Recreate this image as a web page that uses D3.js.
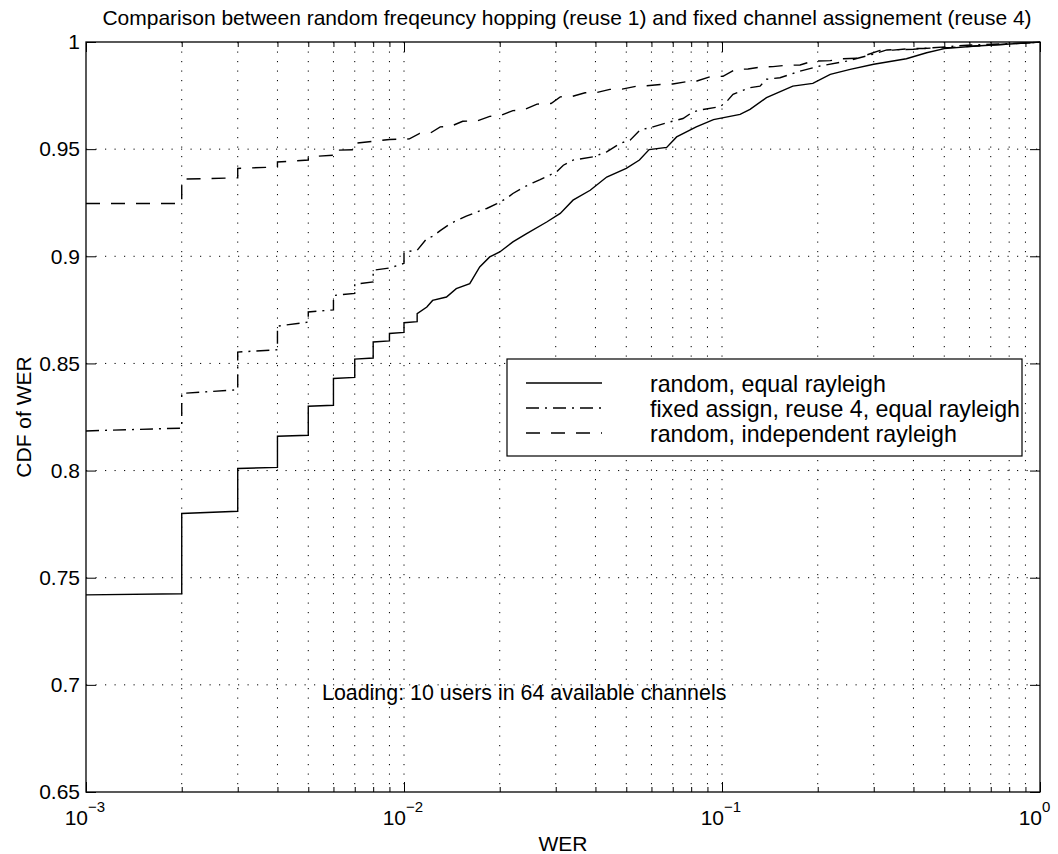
<!DOCTYPE html>
<html>
<head>
<meta charset="utf-8">
<script src="https://cdn.jsdelivr.net/npm/d3@7"></script>
<style>
  body { margin: 0; background: #fff; }
  svg { display: block; font-family: "Liberation Sans", Arial, Helvetica, sans-serif; }
  .axis path.domain { display: none; }
  .axis line { stroke: #000; stroke-width: 1; }
  .axis text { font-size: 21px; fill: #000; font-family: "Liberation Sans", Arial, Helvetica, sans-serif; }
  .grid line { stroke: #000; stroke-width: 1; stroke-dasharray: 1.2 8.3; }
</style>
</head>
<body>
<svg width="1058" height="854"></svg>
<script>
// ---- data (WER, CDF) ----
const randomEqual = [
  [0.001,0.742],[0.002,0.7425],[0.002,0.780],[0.003,0.781],[0.003,0.801],[0.004,0.8015],
  [0.004,0.816],[0.005,0.8165],[0.005,0.830],[0.006,0.8305],[0.006,0.843],[0.007,0.8435],
  [0.007,0.852],[0.008,0.8525],[0.008,0.860],[0.009,0.8605],[0.009,0.864],[0.010,0.8645],
  [0.010,0.869],[0.011,0.8695],[0.011,0.8732],[0.0118,0.8763],[0.0123,0.8794],[0.0136,0.881],
  [0.0146,0.8849],[0.0161,0.8872],[0.0173,0.895],[0.0186,0.8997],[0.020,0.902],[0.022,0.9067],
  [0.0243,0.9106],[0.0281,0.916],[0.031,0.920],[0.034,0.9262],[0.0385,0.9308],[0.0434,0.937],
  [0.050,0.941],[0.055,0.9449],[0.059,0.9498],[0.067,0.9508],[0.072,0.9557],[0.083,0.9604],
  [0.094,0.9638],[0.114,0.9662],[0.1225,0.9686],[0.138,0.974],[0.167,0.9794],[0.193,0.9807],
  [0.219,0.9849],[0.253,0.9872],[0.30,0.9896],[0.38,0.9922],[0.44,0.995],[0.50,0.9969],
  [0.63,0.9981],[0.95,0.9997],[1.0,1.0]
];
const fixedReuse4 = [
  [0.001,0.8185],[0.002,0.8198],[0.002,0.836],[0.003,0.8377],[0.003,0.8553],[0.004,0.8564],
  [0.004,0.8674],[0.005,0.8693],[0.005,0.874],[0.006,0.875],[0.006,0.8817],[0.007,0.8827],
  [0.007,0.887],[0.008,0.888],[0.008,0.8935],[0.009,0.8945],[0.010,0.8967],[0.010,0.902],
  [0.011,0.9028],[0.0118,0.9083],[0.0123,0.9093],[0.013,0.912],[0.014,0.9153],[0.0157,0.9187],
  [0.0173,0.9212],[0.0182,0.9223],[0.0196,0.9246],[0.021,0.927],[0.022,0.9293],[0.0237,0.9321],
  [0.0254,0.9343],[0.0268,0.9358],[0.0302,0.9394],[0.0317,0.9425],[0.034,0.9449],[0.0393,0.9464],
  [0.0434,0.9487],[0.0478,0.9527],[0.0514,0.9542],[0.0552,0.9589],[0.0607,0.9604],[0.067,0.9623],
  [0.0754,0.9643],[0.0811,0.9674],[0.0872,0.9685],[0.0986,0.9698],[0.1037,0.9724],[0.1083,0.9756],
  [0.1225,0.9787],[0.1317,0.9794],[0.138,0.9826],[0.1522,0.9833],[0.176,0.9864],[0.2033,0.9888],
  [0.2466,0.9911],[0.2985,0.9943],[0.33,0.9963],[0.40,0.9966],[0.46,0.9973],[0.59,0.9985],
  [0.95,0.9997],[1.0,1.0]
];
const randomIndep = [
  [0.001,0.9246],[0.002,0.9246],[0.002,0.936],[0.003,0.9366],[0.003,0.941],[0.004,0.9417],
  [0.004,0.944],[0.005,0.9449],[0.005,0.9464],[0.006,0.9472],[0.006,0.9495],[0.007,0.9497],
  [0.007,0.9527],[0.009,0.9545],[0.0104,0.9548],[0.0112,0.9573],[0.0121,0.9575],[0.013,0.9604],
  [0.014,0.9606],[0.0153,0.963],[0.017,0.9632],[0.0186,0.9653],[0.020,0.9655],[0.022,0.968],
  [0.0237,0.9682],[0.0262,0.971],[0.029,0.9713],[0.031,0.9744],[0.0338,0.9746],[0.0371,0.9763],
  [0.0405,0.9765],[0.0444,0.9779],[0.0485,0.978],[0.054,0.9794],[0.058,0.9796],[0.064,0.9802],
  [0.070,0.9804],[0.0776,0.9815],[0.0834,0.9818],[0.0917,0.9838],[0.1007,0.984],[0.11,0.9872],
  [0.1207,0.9874],[0.1317,0.9883],[0.1447,0.9885],[0.158,0.9891],[0.176,0.9893],[0.193,0.9911],
  [0.219,0.9913],[0.24,0.9922],[0.266,0.9924],[0.314,0.9961],[0.345,0.9962],[0.39,0.9969],
  [0.4285,0.997],[0.485,0.9973],[0.533,0.9975],[0.95,0.9997],[1.0,1.0]
];

const seriesNames = ["random, equal rayleigh", "fixed assign, reuse 4, equal rayleigh", "random, independent rayleigh"];
const yTicks = [0.65, 0.7, 0.75, 0.8, 0.85, 0.9, 0.95, 1];
const yTickLabels = ["0.65", "0.7", "0.75", "0.8", "0.85", "0.9", "0.95", "1"];
const xMajor = [1e-3, 1e-2, 1e-1, 1];
const xExponents = ["\u22123", "\u22122", "\u22121", "0"];

const svg = d3.select("svg");
const m = { left: 86, right: 1040, top: 42, bottom: 792 };

const x = d3.scaleLog().domain([1e-3, 1]).range([m.left, m.right]);
const y = d3.scaleLinear().domain([0.65, 1]).range([m.bottom, m.top]);

// every decade gets 1..9
const xAll = [];
[1e-3, 1e-2, 1e-1].forEach(d => { for (let k = 1; k < 10; k++) xAll.push(d * k); });
xAll.push(1);
const xMinor = xAll.filter(v => !xMajor.some(t => Math.abs(t - v) / t < 1e-9));

// grid
const grid = svg.append("g").attr("class", "grid");
grid.selectAll("line.v")
    .data(xAll.filter(v => v > 1.001e-3 && v < 0.999))
    .enter().append("line")
    .attr("x1", d => x(d)).attr("x2", d => x(d))
    .attr("y1", m.top).attr("y2", m.bottom);
grid.selectAll("line.h")
    .data(yTicks.filter(v => v > 0.651 && v < 0.999))
    .enter().append("line")
    .attr("x1", m.left).attr("x2", m.right)
    .attr("y1", d => y(d)).attr("y2", d => y(d));

// axes (ticks point inward)
svg.append("g").attr("class", "axis")
    .attr("transform", `translate(${m.left},0)`)
    .call(d3.axisLeft(y).tickValues(yTicks).tickSize(-10).tickPadding(6)
        .tickFormat((d, i) => yTickLabels[i]));
svg.append("g").attr("class", "axis")
    .attr("transform", `translate(${m.right},0)`)
    .call(d3.axisRight(y).tickValues(yTicks).tickSize(-10).tickFormat(""));
svg.append("g").attr("class", "axis")
    .attr("transform", `translate(0,${m.bottom})`)
    .call(d3.axisBottom(x).tickValues(xMajor).tickSize(-10).tickFormat(""));
svg.append("g").attr("class", "axis")
    .attr("transform", `translate(0,${m.bottom})`)
    .call(d3.axisBottom(x).tickValues(xMinor).tickSize(-5).tickFormat(""));
svg.append("g").attr("class", "axis")
    .attr("transform", `translate(0,${m.top})`)
    .call(d3.axisTop(x).tickValues(xMajor).tickSize(-10).tickFormat(""));
svg.append("g").attr("class", "axis")
    .attr("transform", `translate(0,${m.top})`)
    .call(d3.axisTop(x).tickValues(xMinor).tickSize(-5).tickFormat(""));

// x tick labels 10^n
const xl = svg.append("g").attr("font-size", 21);
xl.selectAll("text.base")
    .data(xMajor)
    .enter().append("text")
    .attr("x", d => x(d) + 2).attr("y", 825)
    .attr("text-anchor", "end")
    .text("10");
xl.selectAll("text.exp")
    .data(xMajor)
    .enter().append("text")
    .attr("x", d => x(d) + 2).attr("y", 812)
    .attr("font-size", 15)
    .text((d, i) => xExponents[i]);

// box
svg.append("rect")
    .attr("x", m.left).attr("y", m.top)
    .attr("width", m.right - m.left).attr("height", m.bottom - m.top)
    .attr("fill", "none").attr("stroke", "#000").attr("stroke-width", 1.3);

// curves
const line = d3.line().x(d => x(d[0])).y(d => y(d[1]));
const styles = ["none", "13 6 2 6", "14 11"];
[randomEqual, fixedReuse4, randomIndep].forEach((s, i) => {
    svg.append("path")
        .datum(s)
        .attr("d", line)
        .attr("fill", "none")
        .attr("stroke", "#000")
        .attr("stroke-width", 1.4)
        .attr("stroke-dasharray", styles[i]);
});

// title and labels
svg.append("text")
    .attr("x", 567).attr("y", 25)
    .attr("text-anchor", "middle").attr("font-size", 21)
    .text("Comparison between random freqeuncy hopping (reuse 1) and fixed channel assignement (reuse 4)");
svg.append("text")
    .attr("x", (m.left + m.right) / 2).attr("y", 851)
    .attr("text-anchor", "middle").attr("font-size", 21)
    .text("WER");
svg.append("text")
    .attr("transform", `translate(31,${(m.top + m.bottom) / 2}) rotate(-90)`)
    .attr("text-anchor", "middle").attr("font-size", 21)
    .text("CDF of WER");
svg.append("text")
    .attr("x", 322).attr("y", 700)
    .attr("font-size", 21.4)
    .text("Loading: 10 users in 64 available channels");

// legend
const legend = svg.append("g");
legend.append("rect")
    .attr("x", 507).attr("y", 359)
    .attr("width", 515).attr("height", 97)
    .attr("fill", "#fff").attr("stroke", "#000").attr("stroke-width", 1.2);
const item = legend.selectAll("g.item")
    .data(seriesNames)
    .enter().append("g")
    .attr("transform", (d, i) => `translate(0,${383 + i * 25})`);
item.append("line")
    .attr("x1", 526).attr("x2", 602)
    .attr("stroke", "#000").attr("stroke-width", 1.4)
    .attr("stroke-dasharray", (d, i) => styles[i]);
item.append("text")
    .attr("x", 650).attr("y", 8.5)
    .attr("font-size", 23.2)
    .text(d => d);
</script>
</body>
</html>
